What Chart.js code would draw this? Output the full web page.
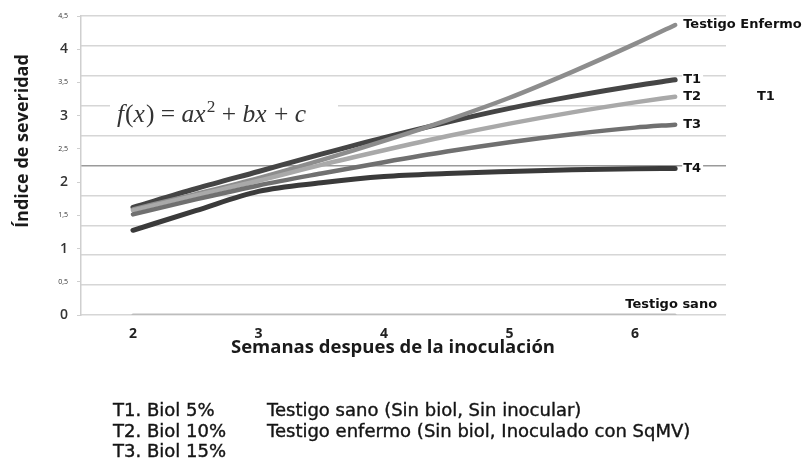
<!DOCTYPE html>
<html>
<head>
<meta charset="utf-8">
<script src="https://cdn.jsdelivr.net/npm/chart.js@4"></script>
<style>
  body { margin: 0; background: #fff; }
  #wrap { position: relative; width: 807px; height: 462px; }
  .leg { position: absolute; font-family: "DejaVu Sans", sans-serif; font-size: 18px; line-height: 20.5px; color: #151515; white-space: nowrap; -webkit-text-stroke: 0.4px #151515; }
</style>
</head>
<body>
<div id="wrap">
  <canvas id="severidadChart"></canvas>
  <div class="leg" style="left:113px; top:400px;">T1. Biol 5%<br>T2. Biol 10%<br>T3. Biol 15%</div>
  <div class="leg" style="left:267px; top:400px;">Testigo sano (Sin biol, Sin inocular)<br>Testigo enfermo (Sin biol, Inoculado con SqMV)</div>
</div>
<script>
// semanas despues de la inoculacion
const semanas = [2, 2.5, 3, 3.5, 4, 4.5, 5, 5.5, 6, 6.32];
const xTicks = [2, 3, 4, 5, 6];

// indice de severidad
const testigoEnfermo = [1.59, 1.82, 2.06, 2.33, 2.62, 2.93, 3.27, 3.66, 4.08, 4.365];
const t1 = [1.62, 1.90, 2.16, 2.42, 2.67, 2.90, 3.11, 3.29, 3.45, 3.54];
const t2 = [1.575, 1.80, 2.02, 2.26, 2.48, 2.69, 2.88, 3.05, 3.20, 3.285];
const t3 = [1.515, 1.74, 1.95, 2.13, 2.30, 2.46, 2.60, 2.72, 2.82, 2.865];
const t4 = [1.275, 1.57, 1.86, 1.99, 2.085, 2.13, 2.16, 2.185, 2.20, 2.205];
const testigoSano = [0, 0, 0, 0, 0, 0, 0, 0, 0, 0];

const nombres = ['Testigo sano', 'T4', 'T3', 'T2', 'Testigo Enfermo', 'T1'];
const series = [testigoSano, t4, t3, t2, testigoEnfermo, t1];
const colores = ['#bdbdbd', '#3a3a3a', '#707070', '#a9a9a9', '#8d8d8d', '#454545'];
const grosores = [3, 5, 4.5, 4.5, 4.5, 5];

const toPoints = vals => vals.map((v, i) => ({ x: semanas[i], y: v }));

// etiquetas al final de cada curva + formula + titulos de ejes
const extras = {
  id: 'extras',
  beforeDatasetsDraw(chart) {
    const ctx = chart.ctx;
    // formula
    const parts = [
      ['f', 'i'], ['(', 'n'], ['x', 'i'], [')', 'n'], [' = ', 'n'], ['ax', 'i'], ['2', 's'],
      [' + ', 'n'], ['bx', 'i'], [' + ', 'n'], ['c', 'i']
    ];
    const size = 25;
    const fontFor = k => k === 'i' ? `italic ${size}px "Liberation Serif"` :
      k === 's' ? `${Math.round(size * 0.68)}px "Liberation Serif"` : `${size}px "Liberation Serif"`;
    ctx.save();
    let total = 0;
    parts.forEach(p => { ctx.font = fontFor(p[1]); total += ctx.measureText(p[0]).width + (p[1] === 'i' ? 1 : 0); });
    ctx.fillStyle = '#fff';
    ctx.fillRect(110, 94, 228, 34);
    ctx.translate(117, 122);
    ctx.scale(190 / total, 1);
    ctx.fillStyle = '#333';
    ctx.textBaseline = 'alphabetic';
    let x = 0;
    parts.forEach(p => {
      ctx.font = fontFor(p[1]);
      ctx.fillText(p[0], x, p[1] === 's' ? -10 : 0);
      x += ctx.measureText(p[0]).width + (p[1] === 'i' ? 1 : 0);
    });
    ctx.restore();
  },
  afterDatasetsDraw(chart) {
    const ctx = chart.ctx;
    ctx.save();
    ctx.font = 'bold 13px "DejaVu Sans"';
    ctx.textBaseline = 'middle';
    chart.data.datasets.forEach((ds, i) => {
      const meta = chart.getDatasetMeta(i);
      const last = meta.data[meta.data.length - 1];
      const w = ctx.measureText(ds.label).width;
      let lx = last.x + 8, ly = last.y;
      if (ds.label === 'Testigo sano') { lx = last.x - 4 - w / 2; ly = last.y - 10; }
      ctx.fillStyle = '#fff';
      ctx.fillRect(lx - 1, ly - 7, w + 3, 14);
      ctx.fillStyle = '#111';
      ctx.fillText(ds.label, lx, ly);
    });
    ctx.fillText('T1', 757, 97);
    // titulo eje x
    ctx.font = 'bold 18.5px "Open Sans"';
    ctx.textAlign = 'center';
    ctx.fillStyle = '#1a1a1a';
    ctx.fillText('Semanas despues de la inoculación', 393, 348);
    // titulo eje y
    ctx.translate(23, 141);
    ctx.rotate(-Math.PI / 2);
    ctx.font = 'bold 18px "Open Sans"';
    ctx.fillText('Índice de severidad', 0, 0);
    ctx.restore();
  }
};

const ctx = document.getElementById('severidadChart').getContext('2d');
new Chart(ctx, {
  type: 'line',
  data: {
    datasets: series.map((vals, i) => ({
      label: nombres[i],
      data: toPoints(vals),
      borderColor: colores[i],
      borderWidth: grosores[i],
      borderCapStyle: 'round',
      borderJoinStyle: 'round',
      pointRadius: 0,
      fill: false,
      cubicInterpolationMode: 'monotone'
    }))
  },
  options: {
    responsive: true,
    maintainAspectRatio: false,
    animation: false,
    layout: { padding: { top: 16, left: 0, right: 0, bottom: 99 } },
    plugins: {
      legend: { display: false },
      tooltip: { enabled: false }
    },
    scales: {
      x: {
        type: 'linear',
        min: 1.586,
        max: 6.725,
        afterBuildTicks: s => { s.ticks = xTicks.map(v => ({ value: v })); },
        afterFit: s => { s.height = 48; },
        grid: { display: false, drawTicks: false },
        border: { display: false },
        ticks: {
          padding: 11,
          color: '#222',
          font: { family: 'Open Sans', size: 14, weight: 'bold' }
        }
      },
      y: {
        position: 'left',
        min: 0,
        max: 4.5,
        afterFit: s => { s.width = 81; },
        grid: { drawOnChartArea: false, tickLength: 4, color: '#cfcfcf' },
        border: { display: true, color: '#cfcfcf', width: 1.5 },
        ticks: {
          stepSize: 0.5,
          padding: 9,
          color: '#333',
          callback: v => String(v).replace('.', ','),
          font: c => (c.tick && !Number.isInteger(c.tick.value))
            ? { family: 'Open Sans', size: 7 }
            : { family: 'Open Sans', size: 14, weight: '600' }
        }
      },
      yg: {
        position: 'right',
        min: 0,
        max: 10,
        afterFit: s => { s.width = 81; },
        ticks: { display: false, stepSize: 1 },
        border: { display: false },
        grid: {
          drawTicks: false,
          lineWidth: 1.5,
          color: c => c.tick && c.tick.value === 5 ? '#9a9a9a' : '#d6d6d6'
        }
      }
    }
  },
  plugins: [extras]
});
</script>
</body>
</html>
